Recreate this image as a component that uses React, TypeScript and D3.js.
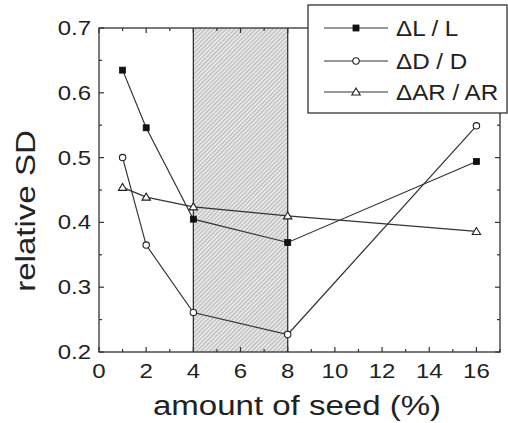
import React, { useRef, useEffect } from 'react';
import * as d3 from 'd3';

// seed amounts (%)
const seedAmounts = [1, 2, 4, 8, 16];
// relative standard deviations
const dLL = [0.635, 0.546, 0.405, 0.369, 0.494];
const dDD = [0.5, 0.365, 0.261, 0.227, 0.549];
const dARAR = [0.454, 0.439, 0.424, 0.41, 0.386];
const seriesNames = ['\u0394L / L', '\u0394D / D', '\u0394AR / AR'];
const markerTypes = ['square', 'circle', 'triangle'];
const xTicks = [0, 2, 4, 6, 8, 10, 12, 14, 16];
const yTicks = [0.2, 0.3, 0.4, 0.5, 0.6, 0.7];
const shadedRange = [4, 8];

const W = 508;
const H = 423;
const INK = '#333';
const FONT = 'Liberation Sans, Arial, sans-serif';

const App: React.FC = () => {
  const svgRef = useRef<SVGSVGElement>(null);

  useEffect(() => {
    if (!svgRef.current) return;
    const svg = d3.select(svgRef.current);
    svg.selectAll('*').remove();

    const x = d3.scaleLinear().domain([0, 17]).range([99, 500]);
    const y = d3.scaleLinear().domain([0.2, 0.7]).range([352, 28]);
    const [x0, x1] = x.range();
    const [yb, yt] = y.range();

    svg.append('rect').attr('width', W).attr('height', H).attr('fill', '#fff');

    // hatch pattern
    const defs = svg.append('defs');
    const pat = defs.append('pattern')
      .attr('id', 'hatch')
      .attr('patternUnits', 'userSpaceOnUse')
      .attr('width', 3)
      .attr('height', 3)
      .attr('patternTransform', 'rotate(45)');
    pat.append('rect').attr('width', 3).attr('height', 3).attr('fill', '#e6e6e6');
    pat.append('line')
      .attr('x1', 0).attr('y1', 0).attr('x2', 0).attr('y2', 3)
      .attr('stroke', '#9a9a9a').attr('stroke-width', 1.2);

    svg.append('rect')
      .attr('x', x(shadedRange[0]))
      .attr('y', yt)
      .attr('width', x(shadedRange[1]) - x(shadedRange[0]))
      .attr('height', yb - yt)
      .attr('fill', 'url(#hatch)');

    shadedRange.forEach(v => {
      svg.append('line')
        .attr('x1', x(v)).attr('x2', x(v))
        .attr('y1', yt).attr('y2', yb)
        .attr('stroke', INK).attr('stroke-width', 1.3);
    });

    // ticks (inward on all four sides)
    const ticks = svg.append('g').attr('stroke', INK).attr('stroke-width', 1.2);
    d3.range(0, 18, 1).forEach(v => {
      const len = v % 2 === 0 ? 5 : 3;
      ticks.append('line').attr('x1', x(v)).attr('x2', x(v)).attr('y1', yb).attr('y2', yb - len);
      ticks.append('line').attr('x1', x(v)).attr('x2', x(v)).attr('y1', yt).attr('y2', yt + len);
    });
    d3.range(0, 11).map(i => 0.2 + i * 0.05).forEach((v, i) => {
      const len = i % 2 === 0 ? 5 : 3;
      ticks.append('line').attr('x1', x0).attr('x2', x0 + len).attr('y1', y(v)).attr('y2', y(v));
      ticks.append('line').attr('x1', x1).attr('x2', x1 - len).attr('y1', y(v)).attr('y2', y(v));
    });

    // frame
    svg.append('rect')
      .attr('x', x0).attr('y', yt)
      .attr('width', x1 - x0).attr('height', yb - yt)
      .attr('fill', 'none').attr('stroke', INK).attr('stroke-width', 1.3);

    // tick labels
    xTicks.forEach(v => {
      svg.append('text')
        .attr('transform', `translate(${x(v)},${378}) scale(1.2,1)`)
        .attr('text-anchor', 'middle')
        .attr('font-family', FONT)
        .attr('font-size', 20)
        .attr('fill', '#222')
        .text(v);
    });
    yTicks.forEach(v => {
      svg.append('text')
        .attr('transform', `translate(${91},${y(v) + 7}) scale(1.2,1)`)
        .attr('text-anchor', 'end')
        .attr('font-family', FONT)
        .attr('font-size', 20)
        .attr('fill', '#222')
        .text(v.toFixed(1));
    });

    // axis titles
    svg.append('text')
      .attr('transform', `translate(${297},${415}) scale(1.18,1)`)
      .attr('text-anchor', 'middle')
      .attr('font-family', FONT)
      .attr('font-size', 28)
      .attr('fill', '#222')
      .text('amount of seed (%)');
    svg.append('text')
      .attr('transform', `translate(${35},${211}) rotate(-90) scale(1.18,1)`)
      .attr('text-anchor', 'middle')
      .attr('font-family', FONT)
      .attr('font-size', 28)
      .attr('fill', '#222')
      .text('relative SD');

    const drawMarker = (g: d3.Selection<SVGGElement, unknown, null, undefined>, type: string, cx: number, cy: number) => {
      if (type === 'square') {
        g.append('rect').attr('x', cx - 3).attr('y', cy - 3).attr('width', 6).attr('height', 6)
          .attr('fill', '#111').attr('stroke', '#111').attr('stroke-width', 0.8);
      } else if (type === 'circle') {
        g.append('circle').attr('cx', cx).attr('cy', cy).attr('r', 3.2)
          .attr('fill', '#fff').attr('stroke', '#222').attr('stroke-width', 1.1);
      } else {
        g.append('path')
          .attr('d', `M${cx},${cy - 4}L${cx + 4.2},${cy + 3}L${cx - 4.2},${cy + 3}Z`)
          .attr('fill', '#fff').attr('stroke', '#222').attr('stroke-width', 1.1);
      }
    };

    // series
    const allSeries = [dLL, dDD, dARAR];
    const line = d3.line<number>()
      .x((_, i) => x(seedAmounts[i]))
      .y(d => y(d));
    allSeries.forEach(vals => {
      svg.append('path')
        .datum(vals)
        .attr('fill', 'none')
        .attr('stroke', INK)
        .attr('stroke-width', 1.2)
        .attr('d', line);
    });
    allSeries.forEach((vals, si) => {
      const g = svg.append('g');
      vals.forEach((v, i) => drawMarker(g, markerTypes[si], x(seedAmounts[i]), y(v)));
    });

    // legend
    const lg = svg.append('g');
    lg.append('rect')
      .attr('x', 308).attr('y', 5)
      .attr('width', 199).attr('height', 108)
      .attr('fill', '#fff').attr('stroke', INK).attr('stroke-width', 1.3);
    const rowY = [28, 61, 92];
    seriesNames.forEach((name, i) => {
      lg.append('line')
        .attr('x1', 324).attr('x2', 388)
        .attr('y1', rowY[i]).attr('y2', rowY[i])
        .attr('stroke', INK).attr('stroke-width', 1.2);
      drawMarker(lg, markerTypes[i], 356, rowY[i]);
      lg.append('text')
        .attr('transform', `translate(${396},${rowY[i] + 8}) scale(1.1,1)`)
        .attr('font-family', FONT)
        .attr('font-size', 22)
        .attr('fill', '#222')
        .text(name);
    });
  }, []);

  return (
    <svg
      ref={svgRef}
      width={W}
      height={H}
      style={{ position: 'absolute', left: 0, top: 0 }}
    />
  );
};

export default App;
